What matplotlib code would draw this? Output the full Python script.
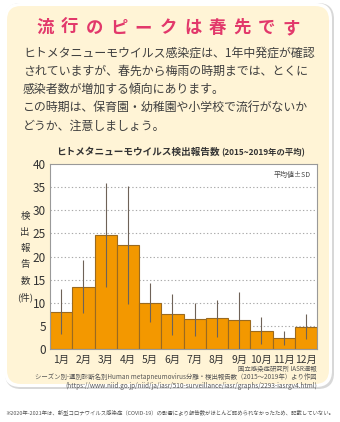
import matplotlib
matplotlib.use('Agg')
import matplotlib.pyplot as plt
from matplotlib.patches import FancyBboxPatch
from matplotlib.transforms import IdentityTransform
import numpy as np

plt.rcParams['font.family'] = ['Noto Sans CJK JP', 'DejaVu Sans']

months = ['1月', '2月', '3月', '4月', '5月', '6月', '7月', '8月', '9月', '10月', '11月', '12月']
means = [8.1, 13.5, 24.6, 22.5, 10.0, 7.5, 6.4, 6.6, 6.2, 4.0, 2.4, 4.8]
sds = [4.8, 5.8, 11.2, 12.7, 4.2, 4.4, 3.5, 4.1, 6.1, 2.9, 1.5, 2.7]
yticks = [0, 5, 10, 15, 20, 25, 30, 35, 40]

title_chars = '流行のピークは春先です'
body_lines = [
    'ヒトメタニューモウイルス感染症は、1年中発症が確認',
    'されていますが、春先から梅雨の時期までは、とくに',
    '感染者数が増加する傾向にあります。',
    'この時期は、保育園・幼稚園や小学校で流行がないか',
    'どうか、注意しましょう。',
]
source_lines = [
    '国立感染症研究所 IASR速報',
    'シーズン別-週別診断名別Human metapneumovirus分離・検出報告数（2015～2019年）より作図',
    '(https://www.niid.go.jp/niid/ja/iasr/510-surveillance/iasr/graphs/2293-iasrgv4.html)',
]
footnote = '※2020年-2021年は、新型コロナウイルス感染症（COVID-19）の影響により報告数がほとんど認められなかったため、記載していない。'

W, H = 340, 422
fig = plt.figure(figsize=(W / 100, H / 100), dpi=100)
fig.patch.set_facecolor('white')


def fy(y):
    # pixel from top -> figure fraction
    return 1 - y / H


def fx(x):
    return x / W


# panel with shadow and white rim (behind the axes)
ident = IdentityTransform()
shadow = FancyBboxPatch((5, H - 389), 329, 386, boxstyle='round,pad=0,rounding_size=16',
                        transform=ident, facecolor='#d8d8d8', edgecolor='none', zorder=-3)
rim = FancyBboxPatch((4, H - 387), 328, 384, boxstyle='round,pad=0,rounding_size=16',
                     transform=ident, facecolor='white', edgecolor='none', zorder=-2)
panel = FancyBboxPatch((7, H - 384), 322, 378, boxstyle='round,pad=0,rounding_size=14',
                       transform=ident, facecolor='#FFF4D6', edgecolor='none', zorder=-1)
fig.patches.extend([shadow, rim, panel])

# heading
for i, ch in enumerate(title_chars):
    fig.text(fx(45 + i * 24.6), fy(28), ch, ha='center', va='center',
             fontsize=12.5, fontweight='bold', color='#E2386B')

for i, line in enumerate(body_lines):
    fig.text(fx(23), fy(53 + i * 18.2), line, ha='left', va='center',
             fontsize=8.6, color='#3f3f3f')

# chart title
fig.text(fx(56), fy(152), 'ヒトメタニューモウイルス検出報告数', ha='left', va='center',
         fontsize=6.9, fontweight='bold', color='#333333')
fig.text(fx(221), fy(152.5), '(2015~2019年の平均)', ha='left', va='center',
         fontsize=6.0, fontweight='bold', color='#333333')

ax = fig.add_axes([fx(50), fy(349), fx(317) - fx(50), fy(164) - fy(349)])
ax.set_facecolor('white')
x = np.arange(len(months))
ax.bar(x, means, width=1.0, color='#F39800', edgecolor='#9a6a20', linewidth=0.8, zorder=2)
ax.errorbar(x, means, yerr=sds, fmt='none', ecolor='#6e6258', elinewidth=0.8,
            capsize=0, zorder=3)
ax.set_xlim(-0.5, len(months) - 0.5)
ax.set_ylim(0, 40)
ax.set_yticks(yticks)
ax.set_yticklabels([str(t) for t in yticks], fontsize=8.5, color='#333333')
ax.set_xticks(x)
ax.set_xticklabels(months, fontsize=7.4, color='#333333')
ax.tick_params(axis='both', length=0, pad=3)
ax.tick_params(axis='x', pad=4)
for t in yticks[1:-1]:
    ax.axhline(t, color='#aaaaaa', linestyle=(0, (1.2, 2)), linewidth=0.8, zorder=1)
for s in ax.spines.values():
    s.set_color('#999999')
    s.set_linewidth(0.8)
ax.text(0.975, 0.94, '平均値±SD', transform=ax.transAxes, ha='right', va='center',
        fontsize=5, color='#444444')

# vertical y-label
ylab = ['検', '出', '報', '告', '数', '(件)']
for i, ch in enumerate(ylab):
    fig.text(fx(25), fy(216 + i * 16.2), ch, ha='center', va='center',
             fontsize=6.8, color='#333333')

for i, line in enumerate(source_lines):
    fig.text(fx(317), fy(369 + i * 8.3), line, ha='right', va='center',
             fontsize=4.6, color='#555555')

fig.text(fx(170), fy(412), footnote, ha='center', va='center', fontsize=3.9, color='#555555')

fig.savefig('out.png', dpi=100, facecolor='white')
